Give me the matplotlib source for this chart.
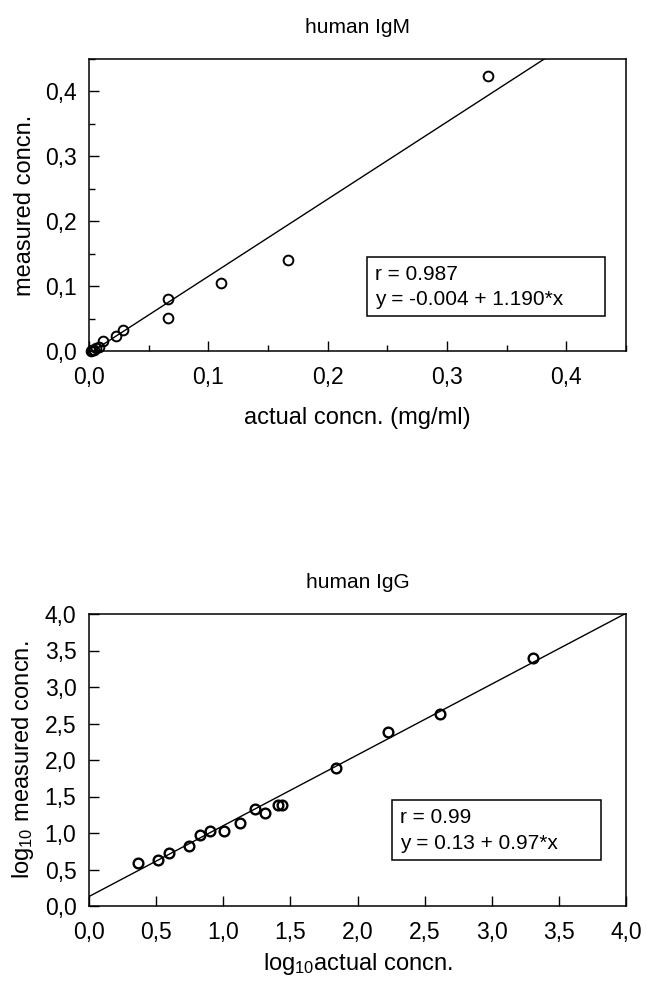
import matplotlib
matplotlib.use("Agg")
import matplotlib.pyplot as plt
from matplotlib.ticker import MultipleLocator, FuncFormatter
from matplotlib.patches import Rectangle

plt.rcParams['font.family'] = ['Liberation Sans', 'DejaVu Sans']
plt.rcParams['mathtext.default'] = 'regular'

# human IgM (linear scale), mg/ml
igm_actual = [0.0014, 0.0028, 0.0042, 0.0056, 0.0083, 0.012, 0.0223, 0.0288,
              0.0665, 0.0665, 0.111, 0.167, 0.3346]
igm_measured = [0.0005, 0.0012, 0.002, 0.004, 0.006, 0.0149, 0.023, 0.0323,
                0.0805, 0.0507, 0.1046, 0.141, 0.4244]
igm_fit = (-0.004, 1.190)
igm_stats = ["r = 0.987", "y = -0.004 + 1.190*x"]

# human IgG (log10 scale)
igg_actual = [0.366, 0.513, 0.598, 0.745, 0.830, 0.903, 1.004, 1.124, 1.239,
              1.311, 1.405, 1.434, 1.840, 2.230, 2.617, 3.308]
igg_measured = [0.585, 0.636, 0.725, 0.827, 0.966, 1.027, 1.027, 1.138, 1.324,
                1.278, 1.384, 1.384, 1.886, 2.379, 2.630, 3.401]
igg_fit = (0.13, 0.97)
igg_stats = ["r = 0.99", "y = 0.13 + 0.97*x"]

W, H = 646, 984
fig = plt.figure(figsize=(W / 100, H / 100), dpi=100)

comma = FuncFormatter(lambda v, p: ("%.1f" % v).replace(".", ","))


def make_axes(top_px):
    left, right, height = 89, 626, 292
    return fig.add_axes([left / W, 1 - (top_px + height) / H, (right - left) / W, height / H])


def style(ax, major, minor=None):
    ax.xaxis.set_major_locator(MultipleLocator(major))
    ax.yaxis.set_major_locator(MultipleLocator(major))
    if minor:
        ax.xaxis.set_minor_locator(MultipleLocator(minor))
        ax.yaxis.set_minor_locator(MultipleLocator(minor))
    ax.xaxis.set_major_formatter(comma)
    ax.yaxis.set_major_formatter(comma)
    ax.tick_params(which='both', direction='in', top=False, right=False, labelsize=16.5, width=1)
    ax.tick_params(which='major', length=7)
    ax.tick_params(which='minor', length=4)
    ax.tick_params(axis='x', pad=11)
    ax.tick_params(axis='y', pad=9)
    for s in ax.spines.values():
        s.set_linewidth(1.1)


def stats_box(ax, x0, y0, x1, y1, lines):
    ax.add_patch(Rectangle((x0, y0), x1 - x0, y1 - y0, transform=ax.transAxes,
                           fill=False, lw=1.1, ec='black', zorder=4))
    ax.text(x0 + 0.015, y0 + (y1 - y0) * 0.71, lines[0], transform=ax.transAxes,
            fontsize=15, va='center', ha='left')
    ax.text(x0 + 0.015, y0 + (y1 - y0) * 0.28, lines[1], transform=ax.transAxes,
            fontsize=15, va='center', ha='left')


# top panel
ax1 = make_axes(59)
ax1.set_xlim(0, 0.45)
ax1.set_ylim(0, 0.45)
style(ax1, 0.1, 0.05)
ax1.plot([0, 0.45], [igm_fit[0], igm_fit[0] + igm_fit[1] * 0.45], color='black', lw=1.0)
ax1.plot(igm_actual, igm_measured, 'o', mfc='none', mec='black', ms=7, mew=1.4, clip_on=False)
ax1.set_title("human IgM", fontsize=15, pad=19)
ax1.set_xlabel("actual concn. (mg/ml)", fontsize=17, labelpad=13)
ax1.set_ylabel("measured concn.", fontsize=17, labelpad=6)
stats_box(ax1, 0.518, 0.12, 0.96, 0.322, igm_stats)

# bottom panel
ax2 = make_axes(614)
ax2.set_xlim(0, 4)
ax2.set_ylim(0, 4)
style(ax2, 0.5)
ax2.plot([0, 4], [igg_fit[0], igg_fit[0] + igg_fit[1] * 4], color='black', lw=1.0)
ax2.plot(igg_actual, igg_measured, 'o', mfc='none', mec='black', ms=7, mew=1.7, clip_on=False)
ax2.set_title("human IgG", fontsize=15, pad=19)
ax2.set_xlabel("log$_{10}$actual concn.", fontsize=17, labelpad=5)
ax2.set_ylabel("log$_{10}$ measured concn.", fontsize=17, labelpad=6)
stats_box(ax2, 0.564, 0.158, 0.954, 0.3635, igg_stats)

fig.savefig("out.png", dpi=100)
